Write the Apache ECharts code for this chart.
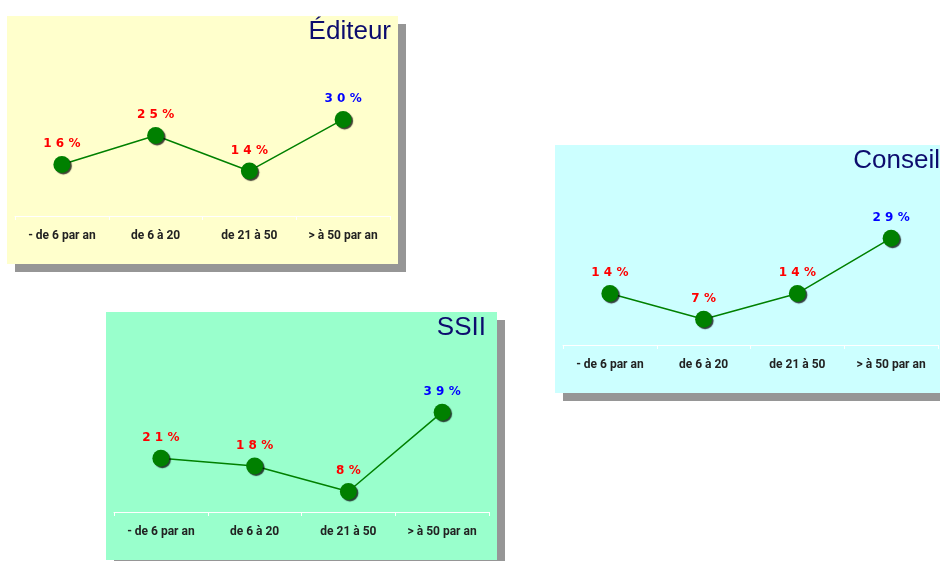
<!DOCTYPE html>
<html>
<head>
<meta charset="utf-8">
<script src="https://cdn.jsdelivr.net/npm/echarts@6/dist/echarts.min.js"></script>
<style>
  html, body { margin: 0; padding: 0; background: #ffffff; }
  #chart { width: 940px; height: 561px; }
</style>
</head>
<body>
<div id="chart"></div>
<script>
// Frequency classes shared by the three panels
const categories = ['- de 6 par an', 'de 6 à 20', 'de 21 à 50', '> à 50 par an'];

// Percentages per sector
const editeurValues = [16, 25, 14, 30];
const conseilValues = [14, 7, 14, 29];
const ssiiValues = [21, 18, 8, 39];

const panelTitles = ['Éditeur', 'Conseil', 'SSII'];

// Panel placement and styling (position of the card, background, vertical scale)
const panels = [
  { title: panelTitles[0], values: editeurValues, x: 7,   y: 16,  bg: '#ffffcc', yMax: 43.5, titleRight: 384 },
  { title: panelTitles[1], values: conseilValues, x: 555, y: 145, bg: '#ccffff', yMax: 38,   titleRight: 385 },
  { title: panelTitles[2], values: ssiiValues,    x: 106, y: 312, bg: '#99ffcc', yMax: 54.7, titleRight: 380 }
];

const PANEL_W = 391, PANEL_H = 248, SHADOW = 8;
const PLOT_H = 140;

const chart = echarts.init(document.getElementById('chart'), null, { renderer: 'canvas' });

const graphic = [];
const grid = [], xAxis = [], yAxis = [], series = [];

// Spaced-out digits, e.g. 16 -> "1 6 %"
function spacedPercent(v) {
  return String(v).split('').join(' ') + ' %';
}

panels.forEach((p, i) => {
  // drop shadow then card
  graphic.push({
    type: 'rect', z: -20, silent: true,
    shape: { x: p.x + SHADOW, y: p.y + SHADOW, width: PANEL_W, height: PANEL_H },
    style: { fill: '#969696' }
  });
  graphic.push({
    type: 'rect', z: -10, silent: true,
    shape: { x: p.x, y: p.y, width: PANEL_W, height: PANEL_H },
    style: { fill: p.bg }
  });
  graphic.push({
    type: 'text', z: 10, silent: true,
    x: p.x + p.titleRight, y: p.y + 3,
    style: {
      text: p.title, fill: '#0c0c6e',
      font: '26px "Liberation Sans", Arial, sans-serif',
      textAlign: 'right', textVerticalAlign: 'top'
    }
  });

  grid.push({ left: p.x + 8, top: p.y + 200 - PLOT_H, width: 375, height: PLOT_H });

  xAxis.push({
    type: 'category', gridIndex: i, data: categories, boundaryGap: true,
    axisLine: { show: true, lineStyle: { color: '#ffffff', width: 1 } },
    axisTick: { show: true, interval: 0, length: 4, lineStyle: { color: '#ffffff', width: 1 } },
    axisLabel: {
      interval: 0, hideOverlap: false,
      margin: 14, color: '#222222', fontWeight: 'bold', fontSize: 12,
      fontFamily: 'Roboto, "Liberation Sans", sans-serif'
    },
    splitLine: { show: false }
  });

  yAxis.push({
    type: 'value', gridIndex: i, min: 0, max: p.yMax, show: false,
    splitLine: { show: false }
  });

  const maxVal = Math.max(...p.values);
  series.push({
    type: 'line', xAxisIndex: i, yAxisIndex: i,
    data: p.values.map(v => ({
      value: v,
      label: { color: v === maxVal ? '#0000ff' : '#ff0000' }
    })),
    symbol: 'circle', symbolSize: 17,
    lineStyle: { color: '#008000', width: 1.5 },
    itemStyle: {
      color: '#008000',
      shadowColor: 'rgba(0,0,0,0.75)', shadowBlur: 1,
      shadowOffsetX: 1.5, shadowOffsetY: 1.5
    },
    label: {
      show: true, position: 'top', distance: 6,
      formatter: params => spacedPercent(params.value),
      fontSize: 12, fontWeight: 'bold',
      fontFamily: '"DejaVu Sans", Verdana, sans-serif'
    },
    animation: false
  });
});

chart.setOption({
  backgroundColor: '#ffffff',
  animation: false,
  graphic: graphic,
  grid: grid,
  xAxis: xAxis,
  yAxis: yAxis,
  series: series
});
</script>
</body>
</html>
